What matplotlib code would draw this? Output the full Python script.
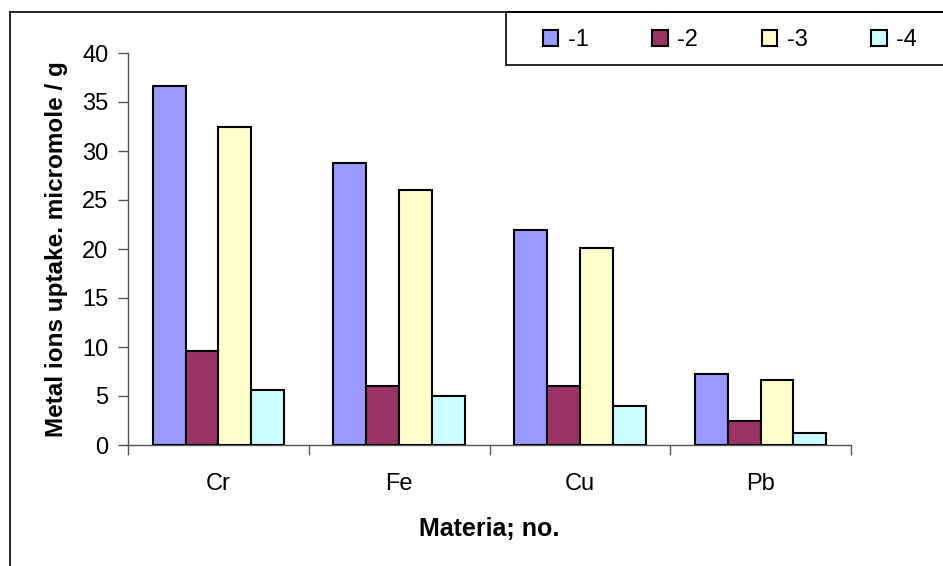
import numpy as np
import matplotlib.pyplot as plt
from matplotlib.lines import Line2D
from matplotlib.patches import Rectangle, Patch

plt.rcParams['font.family'] = ['Liberation Sans', 'DejaVu Sans']

metaux = ['Cr', 'Fe', 'Cu', 'Pb']
series = ['-1', '-2', '-3', '-4']
v1 = [36.6, 28.8, 21.9, 7.2]
v2 = [9.6, 6.0, 6.0, 2.4]
v3 = [32.4, 26.0, 20.1, 6.6]
v4 = [5.6, 5.0, 4.0, 1.2]
couleurs = ['#9999FF', '#993366', '#FFFFCC', '#CCFFFF']

fig = plt.figure(figsize=(9.43, 5.66), dpi=100)
ax = fig.add_axes([128/943, 1-445/566, (851-128)/943, (445-53)/566])

largeur = 1/5.5
x = np.arange(len(metaux))
for i, vals in enumerate([v1, v2, v3, v4]):
    ax.bar(x + (i-1.5)*largeur, vals, largeur, color=couleurs[i],
           edgecolor='black', linewidth=1.5, zorder=3)

ax.set_xlim(-0.5, len(metaux)-0.5)
ax.set_ylim(0, 40)
ax.set_yticks(np.arange(0, 41, 5))
ax.set_xticks(np.arange(-0.5, len(metaux), 1))
ax.set_xticklabels([])
ax.set_xticks(x, minor=True)
ax.set_xticklabels(metaux, minor=True)
ax.tick_params(axis='x', which='minor', length=0, pad=20, labelsize=17)
ax.tick_params(axis='x', which='major', length=7, width=1, color='#555555', direction='out')
ax.tick_params(axis='y', length=7, width=1, color='#555555', labelsize=17, pad=7)

for s in ['top', 'right']:
    ax.spines[s].set_visible(False)
for s in ['left', 'bottom']:
    ax.spines[s].set_color('#555555')
    ax.spines[s].set_linewidth(1)

ax.set_xlabel('Materia; no.', fontsize=18, fontweight='bold', labelpad=16)
ax.set_ylabel('Metal ions uptake. micromole / g', fontsize=17.5, fontweight='bold', labelpad=10)

# cadre du graphique
fig.add_artist(Line2D([10/943, 1], [1-12/566, 1-12/566], color='black', lw=1.2))
fig.add_artist(Line2D([10/943, 10/943], [0, 1-12/566], color='black', lw=1.2))

# legende
fig.add_artist(Rectangle((506/943, 1-65/566), 1, 53/566, transform=fig.transFigure,
                         facecolor='white', edgecolor='black', lw=1.2))
poignees = [Patch(facecolor=c, edgecolor='black', linewidth=1.5) for c in couleurs]
fig.legend(poignees, series, loc='center left', bbox_to_anchor=(543/943, 1-40/566),
           ncol=4, frameon=False, fontsize=17, handlelength=0.65, handleheight=0.65,
           handletextpad=0.4, columnspacing=2.7, borderaxespad=0, borderpad=0)

fig.savefig('out.png', dpi=100)
